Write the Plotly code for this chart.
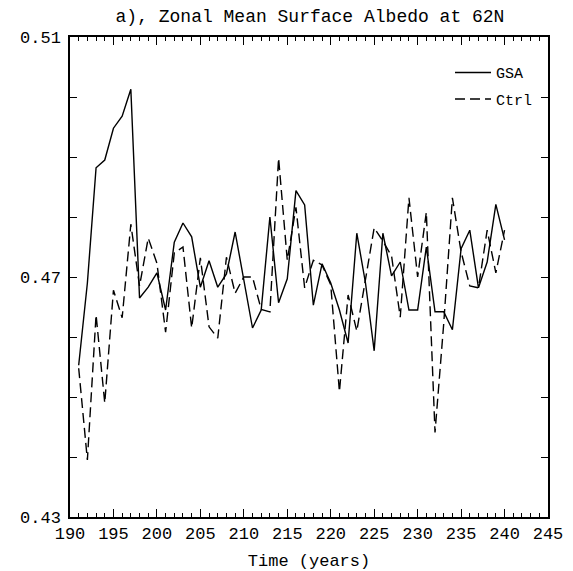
import plotly.graph_objects as go

years = list(range(191, 241))
gsa = [0.4553, 0.4690, 0.4882, 0.4895, 0.4948, 0.4968, 0.5013, 0.4665, 0.4683, 0.4707,
       0.4645, 0.4758, 0.4790, 0.4767, 0.4683, 0.4727, 0.4683, 0.4705, 0.4775, 0.4698,
       0.4615, 0.4645, 0.4800, 0.4657, 0.4697, 0.4844, 0.4820, 0.4653, 0.4722, 0.4690,
       0.4645, 0.4590, 0.4773, 0.4690, 0.4577, 0.4773, 0.4702, 0.4725, 0.4645, 0.4645,
       0.4750, 0.4642, 0.4642, 0.4612, 0.4747, 0.4778, 0.4682, 0.4725, 0.4821, 0.4762]
ctrl = [0.4548, 0.4395, 0.4637, 0.4490, 0.4678, 0.4632, 0.4788, 0.4685, 0.4765, 0.4723,
        0.4608, 0.4740, 0.4750, 0.4615, 0.4732, 0.4617, 0.4598, 0.4733, 0.4673, 0.4700,
        0.4700, 0.4646, 0.4642, 0.4898, 0.4728, 0.4816, 0.4682, 0.4728, 0.4720, 0.4687,
        0.4509, 0.4670, 0.4610, 0.4695, 0.4782, 0.4760, 0.4735, 0.4633, 0.4832, 0.4700,
        0.4808, 0.4441, 0.4622, 0.4832, 0.4742, 0.4685, 0.4682, 0.4778, 0.4707, 0.4778]

x_major = [190, 195, 200, 205, 210, 215, 220, 225, 230, 235, 240, 245]
y_ticks = [0.43, 0.47, 0.51]
y_tick_text = ["0.43", "0.47", "0.51"]

FONT = "Liberation Mono"

fig = go.Figure()
fig.add_trace(go.Scatter(x=years, y=gsa, mode="lines", name="GSA", legendgroup="g1",
                         line=dict(color="black", width=1.4)))
fig.add_trace(go.Scatter(x=years, y=ctrl, mode="lines", name="Ctrl", legendgroup="g2",
                         line=dict(color="black", width=1.4, dash="10px,5px")))

fig.update_layout(
    width=573, height=571,
    margin=dict(l=59, r=33, t=29, b=62),
    paper_bgcolor="white", plot_bgcolor="white",
    font=dict(family=FONT, color="black", size=17),
    title=dict(text="a), Zonal Mean Surface Albedo at 62N", x=0.527, xanchor="center",
               y=0.987, yanchor="middle", font=dict(family=FONT, size=18)),
    showlegend=True,
    legend=dict(x=0.795, y=0.96, xanchor="left", yanchor="top", itemwidth=36,
                bgcolor="rgba(0,0,0,0)", font=dict(family=FONT, size=15),
                traceorder="grouped", tracegroupgap=4),
)
fig.update_xaxes(
    range=[190, 245], tickvals=x_major, ticks="inside", ticklen=8,
    tickwidth=1.2, tickcolor="black", showline=True, linecolor="black", linewidth=1.5,
    mirror="allticks", showgrid=False, zeroline=False, tickfont=dict(size=17),
    minor=dict(dtick=1, ticks="inside", ticklen=4, tickcolor="black", tickwidth=1),
    title=dict(text="Time (years)", font=dict(size=17), standoff=11),
)
fig.update_yaxes(
    range=[0.43, 0.51], tickvals=y_ticks, ticktext=y_tick_text, ticks="inside", ticklen=7,
    tickwidth=1.2, tickcolor="black", showline=True, linecolor="black", linewidth=1.5,
    mirror="allticks", showgrid=False, zeroline=False, tickfont=dict(size=17),
    ticklabelstandoff=4,
    minor=dict(dtick=0.01, ticks="inside", ticklen=7, tickcolor="black", tickwidth=1.2),
)

fig.write_html("out.html")
